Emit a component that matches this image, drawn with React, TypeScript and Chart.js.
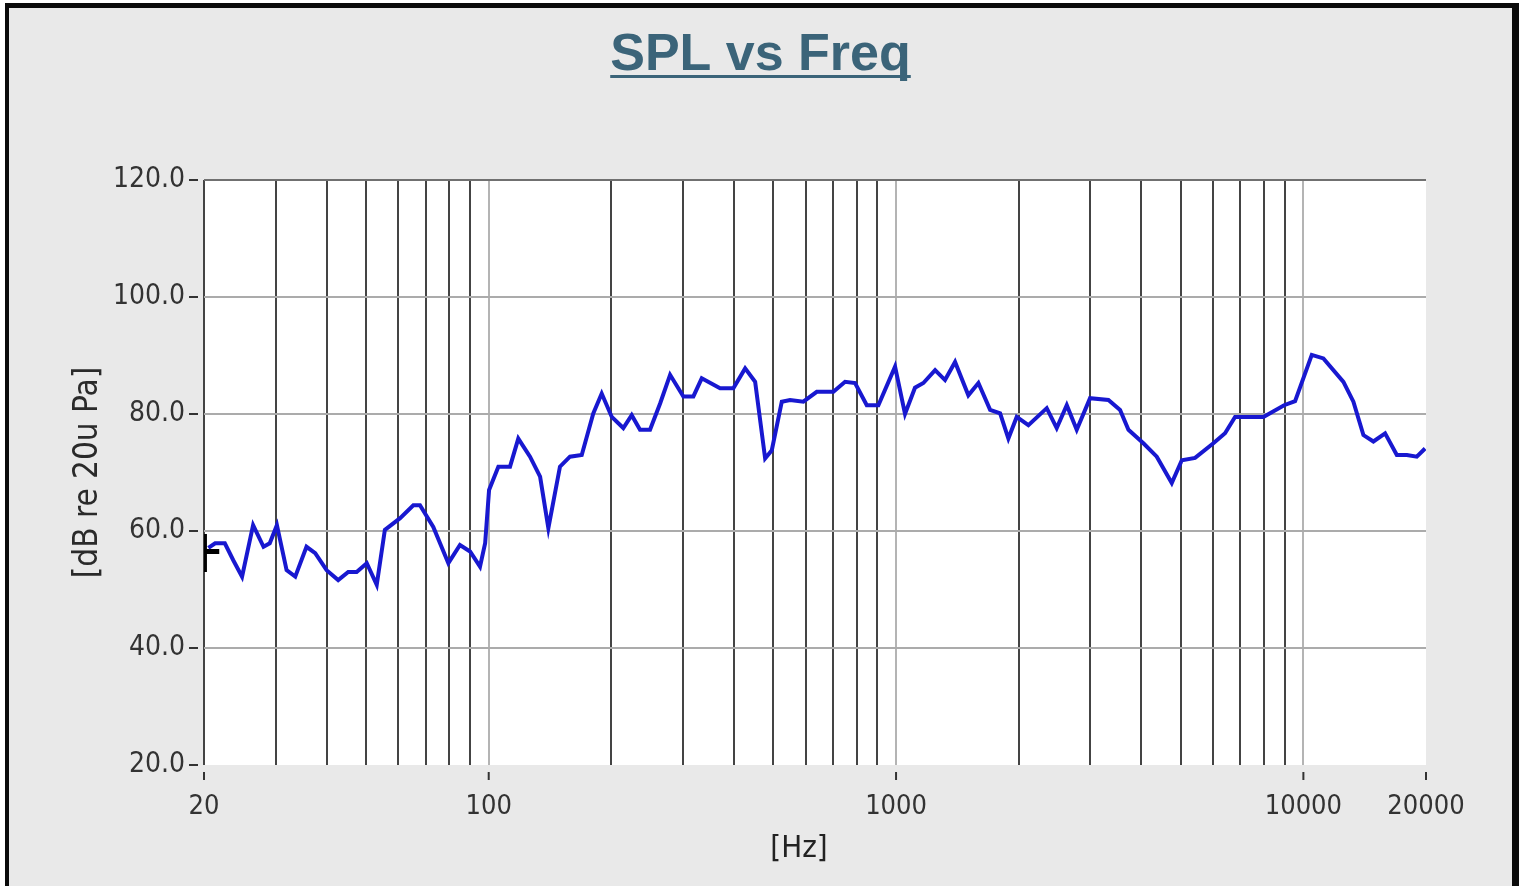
import React, { useEffect, useRef } from "react";
import { Chart, registerables } from "chart.js";

Chart.register(...registerables);

const freqs = [
  20.5, 21.3, 22.5, 23.6, 24.8, 26.4, 28.0, 29.0, 30.2, 31.9, 33.5, 35.7, 37.5, 40.0, 42.7, 45.2, 47.4, 50.2, 53.1,
  55.6, 60.6, 65.3, 67.8, 73.1, 79.6, 85.0, 90.0, 95.2, 98.0, 100.2, 105.6, 112.8, 118.2, 126.3, 133.7, 140.1,
  149.6, 158.3, 169.2, 180.6, 189.4, 200.5, 214.0, 224.4, 235.2, 248.9, 263.5, 278.8, 300.5, 318.0, 333.4, 369.8,
  398.7, 426.1, 450.9, 477.1, 495.4, 524.2, 549.3, 592.2, 638.8, 701.7, 749.7, 793.2, 847.5, 904.9, 994.4, 1052,
  1113, 1167, 1247, 1319, 1396, 1505, 1593, 1702, 1801, 1887, 1978, 2113, 2344, 2480, 2625, 2777, 2994, 3322,
  3548, 3720, 4048, 4366, 4752, 5030, 5422, 6012, 6422, 6796, 7977, 8968, 9542, 10486, 11198, 12540, 13268,
  14040, 14856, 15872, 16958, 17946, 18986, 19898,
];
const spl = [
  57.1, 57.9, 57.9, 55.0, 52.2, 61.0, 57.3, 57.9, 61.0, 53.3, 52.2, 57.3, 56.2, 53.3, 51.6, 53.0, 53.0, 54.5, 50.8,
  60.2, 62.2, 64.4, 64.4, 60.7, 54.5, 57.6, 56.5, 53.9, 57.9, 67.0, 71.0, 71.0, 75.8, 72.7, 69.3, 60.5,
  71.0, 72.7, 73.0, 80.1, 83.5, 79.5, 77.6, 79.8, 77.3, 77.3, 81.8, 86.7, 83.0, 83.0, 86.1, 84.4,
  84.4, 87.8, 85.5, 72.4, 73.8, 82.1, 82.4, 82.1, 83.8, 83.8, 85.5, 85.3, 81.5, 81.5, 88.1, 80.0,
  84.5, 85.3, 87.5, 85.8, 88.9, 83.2, 85.3, 80.7, 80.1, 75.8, 79.5, 78.1, 81.0, 77.6, 81.5, 77.3, 82.7, 82.4,
  80.7, 77.3, 75.0, 72.7, 68.2, 72.1, 72.5, 75.0, 76.7, 79.5, 79.5, 81.5, 82.2, 90.1, 89.5, 85.5, 82.1,
  76.4, 75.3, 76.7, 73.0, 73.0, 72.7, 74.1,
];
// short black trace at the start of the plot
const markerFreqs = [20, 20, 20.1, 21.8];
const markerSpl = [59.5, 53.0, 56.5, 56.5];

const xTickValues = [
  20, 30, 40, 50, 60, 70, 80, 90, 100, 200, 300, 400, 500, 600, 700, 800, 900, 1000, 2000, 3000, 4000, 5000,
  6000, 7000, 8000, 9000, 10000, 20000,
];
const xLabelValues = [20, 100, 1000, 10000, 20000];
const xLightGrid = [100, 1000, 10000];
const yTickValues = [20, 40, 60, 80, 100, 120];

const TITLE = "SPL vs Freq";
const X_TITLE = "[Hz]";
const Y_TITLE = "[dB re 20u Pa]";

const LABEL_FONT = "'Liberation Sans Narrow', 'DejaVu Sans Condensed', Roboto, sans-serif";

const decorPlugin = {
  id: "decor",
  beforeDraw(chart: any) {
    const { ctx, chartArea } = chart;
    ctx.save();
    ctx.fillStyle = "#ffffff";
    ctx.fillRect(chartArea.left, chartArea.top, chartArea.right - chartArea.left, chartArea.bottom - chartArea.top);
    ctx.restore();
  },
  afterDraw(chart: any) {
    const { ctx, chartArea, width, height } = chart;
    const xs = chart.scales.x;
    const ys = chart.scales.y;
    ctx.save();
    // title with underline
    ctx.font = "bold 52px 'Liberation Sans', Arial, sans-serif";
    ctx.fillStyle = "#3b6479";
    ctx.textAlign = "center";
    ctx.textBaseline = "alphabetic";
    const cx = width / 2;
    const baseY = 62;
    ctx.fillText(TITLE, cx, baseY);
    const w = ctx.measureText(TITLE).width;
    ctx.fillRect(cx - w / 2, baseY + 5, w, 3);
    // x axis title
    ctx.font = "31px " + LABEL_FONT;
    ctx.fillStyle = "#222222";
    ctx.textBaseline = "middle";
    ctx.fillText(X_TITLE, (chartArea.left + chartArea.right) / 2 - 16, height - 37);
    // small tick marks
    ctx.strokeStyle = "#333333";
    ctx.lineWidth = 2;
    xLabelValues.forEach((v) => {
      const px = xs.getPixelForValue(v);
      ctx.beginPath();
      ctx.moveTo(px, chartArea.bottom + 7);
      ctx.lineTo(px, chartArea.bottom + 15);
      ctx.stroke();
    });
    yTickValues.forEach((v) => {
      const py = ys.getPixelForValue(v);
      ctx.beginPath();
      ctx.moveTo(chartArea.left - 15, py);
      ctx.lineTo(chartArea.left - 6, py);
      ctx.stroke();
    });
    ctx.restore();
  },
};

export default function App() {
  const canvasRef = useRef<HTMLCanvasElement | null>(null);

  useEffect(() => {
    if (!canvasRef.current) return;
    const chart = new Chart(canvasRef.current, {
      type: "line",
      data: {
        datasets: [
          {
            label: "SPL",
            data: freqs.map((f, i) => ({ x: f, y: spl[i] })),
            borderColor: "#1818d0",
            borderWidth: 4,
            pointRadius: 0,
            tension: 0,
          },
          {
            label: "marker",
            data: markerFreqs.map((f, i) => ({ x: f, y: markerSpl[i] })),
            borderColor: "#000000",
            borderWidth: 5,
            pointRadius: 0,
            tension: 0,
          },
        ],
      },
      options: {
        animation: false,
        responsive: true,
        maintainAspectRatio: false,
        layout: { padding: { top: 172, right: 86, left: 0, bottom: 0 } },
        plugins: { legend: { display: false }, tooltip: { enabled: false }, title: { display: false } },
        scales: {
          x: {
            type: "logarithmic",
            min: 20,
            max: 20000,
            afterBuildTicks: (scale: any) => {
              scale.ticks = xTickValues.map((v) => ({ value: v }));
            },
            afterFit: (scale: any) => {
              scale.height = 121;
            },
            border: { display: false },
            grid: {
              drawTicks: false,
              lineWidth: 2,
              color: (c: any) => {
                const v = c.tick ? c.tick.value : 0;
                if (v === 20000) return "rgba(0,0,0,0)";
                if (xLightGrid.includes(v)) return "#b4b4b4";
                return "#444444";
              },
            },
            ticks: {
              autoSkip: false,
              maxRotation: 0,
              padding: 26,
              color: "#333333",
              font: { family: LABEL_FONT, size: 27 },
              callback: (v: any) => (xLabelValues.includes(Number(v)) ? String(v) : ""),
            },
            title: { display: false },
          },
          y: {
            type: "linear",
            min: 20,
            max: 120,
            afterBuildTicks: (scale: any) => {
              scale.ticks = yTickValues.map((v) => ({ value: v }));
            },
            afterFit: (scale: any) => {
              scale.width = 195;
            },
            border: { display: false },
            grid: {
              drawTicks: false,
              lineWidth: 2,
              color: (c: any) => {
                const v = c.tick ? c.tick.value : 0;
                if (v === 20) return "rgba(0,0,0,0)";
                if (v === 120) return "#707070";
                return "#ababab";
              },
            },
            ticks: {
              padding: 19,
              color: "#333333",
              font: { family: LABEL_FONT, size: 28 },
              callback: (v: any) => Number(v).toFixed(1),
            },
            title: {
              display: true,
              text: Y_TITLE,
              color: "#2a2a2a",
              font: { family: LABEL_FONT, size: 33 },
              padding: { top: 60, bottom: 0 },
            },
          },
        },
      },
      plugins: [decorPlugin],
    } as any);
    return () => chart.destroy();
  }, []);

  return (
    <div style={{ position: "fixed", left: 0, top: 0, width: 1519, height: 886, background: "#ffffff" }}>
      <div
        style={{
          position: "absolute",
          left: 5,
          top: 3,
          right: 0,
          bottom: 0,
          background: "#0a0a0a",
        }}
      >
        <div
          style={{
            position: "absolute",
            left: 4,
            top: 5,
            width: 1503,
            height: 878,
            background: "#e9e9e9",
          }}
        >
          <canvas ref={canvasRef} />
        </div>
      </div>
    </div>
  );
}
